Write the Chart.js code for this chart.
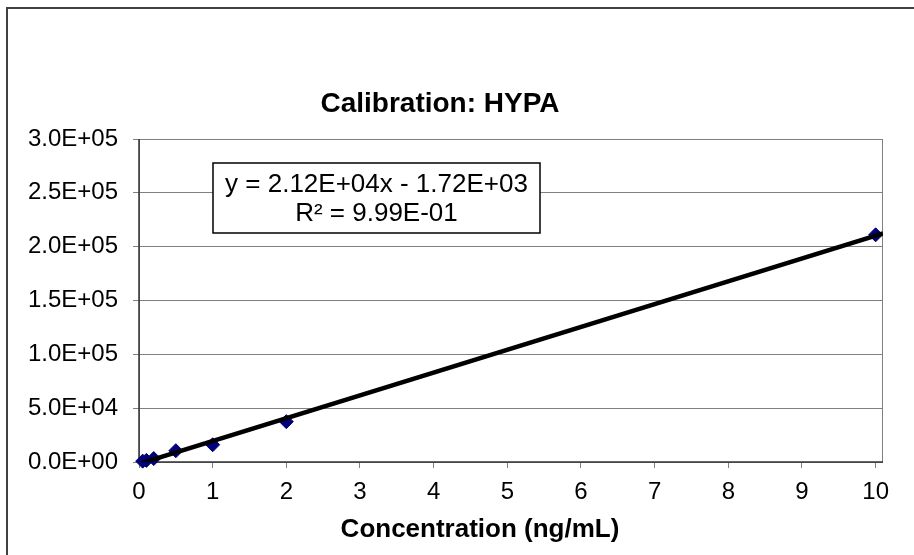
<!DOCTYPE html>
<html lang="en">
<head>
<meta charset="UTF-8" />
<title>Calibration: HYPA</title>
<script src="https://cdn.jsdelivr.net/npm/chart.js@4.4.0/dist/chart.umd.min.js"></script>
<style>
  html,body{margin:0;padding:0;background:#fff;overflow:hidden}
  #wrap{position:absolute;left:0;top:0;width:914px;height:555px}
</style>
</head>
<body>
<div id="wrap"><canvas id="cal" width="914" height="555"></canvas></div>
<script>
/* ---- data ---- */
const conc   = [0.05, 0.1, 0.2, 0.5, 1, 2, 10];            // ng/mL
const area   = [800, 1500, 3200, 10500, 16000, 37500, 211000];
const xTicks = [0,1,2,3,4,5,6,7,8,9,10];
const yTicks = [0,50000,100000,150000,200000,250000,300000];
const slope = 2.12e4, intercept = -1.72e3;                 // trendline as printed
const eqLines = ['y = 2.12E+04x - 1.72E+03', 'R² = 9.99E-01'];
const X_MAX = 10.1, Y_MAX = 300000;

const FONT = '"Liberation Sans", Arial, sans-serif';

const sci = v => {
  const [m,e] = v.toExponential(1).split('e');
  const n = Math.abs(+e);
  return m + 'E' + (+e < 0 ? '-' : '+') + (n < 10 ? '0' : '') + n;
};

/* ---- frame, box, titles ---- */
Chart.register({
  id:'excelBits',
  beforeDatasetsDraw:c=>{
    const ctx=c.ctx, a=c.chartArea;
    ctx.save();
    ctx.strokeStyle='#808080'; ctx.lineWidth=1;
    ctx.strokeRect(a.left+0.5, a.top+0.5, a.right-a.left-1, a.bottom-a.top);
    ctx.strokeStyle='#333'; ctx.lineWidth=1.5;
    ctx.beginPath(); ctx.moveTo(a.left, a.top); ctx.lineTo(a.left, a.bottom); ctx.lineTo(a.right, a.bottom); ctx.stroke();
    ctx.restore();
  },
  afterDraw:c=>{
    const ctx=c.ctx;
    ctx.save();
    // outer chart border (only top/left visible in the shot)
    ctx.strokeStyle='#404040'; ctx.lineWidth=2;
    ctx.beginPath(); ctx.moveTo(7, 560); ctx.lineTo(7, 8); ctx.lineTo(920, 8); ctx.stroke();
    // title
    ctx.fillStyle='#000'; ctx.textAlign='center'; ctx.textBaseline='middle';
    ctx.font='bold 28px '+FONT;
    ctx.fillText('Calibration: HYPA', 440, 104);
    // x axis title
    ctx.font='bold 26px '+FONT;
    ctx.fillText('Concentration (ng/mL)', 480, 530);
    // equation box
    ctx.fillStyle='#fff'; ctx.fillRect(213, 163, 327, 70);
    ctx.strokeStyle='#000'; ctx.lineWidth=1.5; ctx.strokeRect(213, 163, 327, 70);
    ctx.fillStyle='#000'; ctx.font='26px '+FONT;
    ctx.fillText(eqLines[0], 376.5, 185);
    ctx.fillText(eqLines[1], 376.5, 214);
    ctx.restore();
  }
});

const trend = [0, X_MAX].map(x => ({x, y: slope*x + intercept}));

new Chart(document.getElementById('cal'), {
  type:'scatter',
  data:{datasets:[
    {label:'trend', data:trend, showLine:true, borderColor:'#000', borderWidth:4.5,
     pointRadius:0, order:0, clip:0},
    {label:'HYPA', data:conc.map((x,i)=>({x, y:area[i]})), pointStyle:'rectRot',
     pointRadius:7, backgroundColor:'#000080', borderColor:'#000066', borderWidth:1, order:1, clip:8}
  ]},
  options:{
    responsive:false, animation:false, events:[],
    layout:{padding:{top:139, right:31, left:0, bottom:0}},
    plugins:{legend:{display:false}, tooltip:{enabled:false}, title:{display:false}},
    scales:{
      x:{type:'linear', min:0, max:X_MAX,
        afterBuildTicks:s=>{s.ticks=xTicks.map(v=>({value:v}));},
        afterFit:s=>{s.height=93;},
        border:{display:false},
        grid:{drawOnChartArea:false, drawTicks:true, tickLength:6, color:'#808080'},
        ticks:{color:'#000', font:{family:FONT, size:24}, padding:10, maxRotation:0, autoSkip:false}},
      y:{type:'linear', min:0, max:Y_MAX,
        afterBuildTicks:s=>{s.ticks=yTicks.map(v=>({value:v}));},
        afterFit:s=>{s.width=139;},
        border:{display:false},
        grid:{color:'#808080', tickLength:6, lineWidth:1},
        ticks:{color:'#000', font:{family:FONT, size:24}, padding:15, callback:v=>sci(v)}}
    }
  }
});
</script>
</body>
</html>
